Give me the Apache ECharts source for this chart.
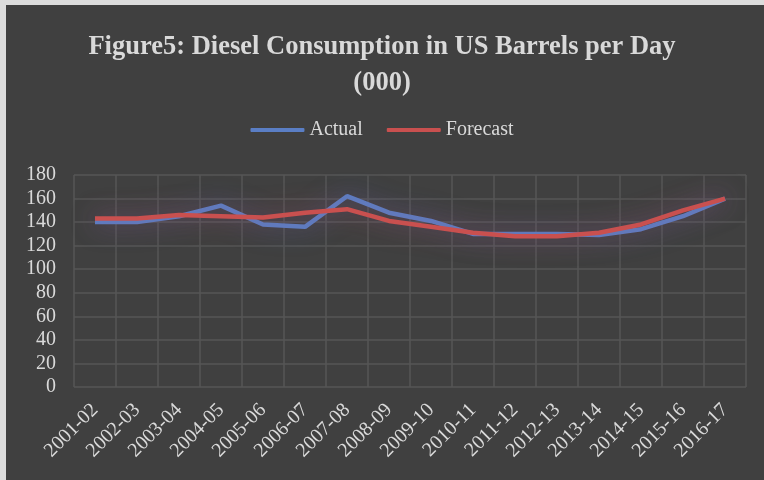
<!DOCTYPE html>
<html>
<head>
<meta charset="utf-8">
<script src="https://cdn.jsdelivr.net/npm/echarts@6/dist/echarts.min.js"></script>
<style>
  html, body { margin: 0; padding: 0; background: #ffffff; }
  #chart { width: 764px; height: 480px; }
</style>
</head>
<body>
<div id="chart"></div>
<script>
// Diesel consumption, US barrels per day (thousands)
const years = ['2001-02','2002-03','2003-04','2004-05','2005-06','2006-07','2007-08','2008-09',
               '2009-10','2010-11','2011-12','2012-13','2013-14','2014-15','2015-16','2016-17'];
const actual   = [140, 140, 145, 154, 138, 136, 162, 148, 141, 130, 130, 130, 129, 134, 145, 160];
const forecast = [143, 143, 146, 145, 144, 148, 151, 141, 136, 131, 128, 128, 131, 138, 150, 160];
const yTicks = { min: 0, max: 180, interval: 20 };

const textColor = '#d9d9d9';
const serif = '"Liberation Serif", "Times New Roman", serif';

const chart = echarts.init(document.getElementById('chart'));
chart.setOption({
  backgroundColor: '#404040',
  animation: false,
  graphic: [
    { type: 'rect', left: 0, top: 0, shape: { width: 6, height: 480 }, style: { fill: '#dcdcdc' } },
    { type: 'rect', left: 0, top: 0, shape: { width: 764, height: 5 }, style: { fill: '#dcdcdc' } }
  ],
  title: {
    text: 'Figure5: Diesel Consumption in US Barrels per Day\n(000)',
    left: 'center',
    top: 24,
    textStyle: { fontFamily: serif, fontWeight: 'bold', fontSize: 26.5, lineHeight: 36, color: textColor }
  },
  legend: {
    top: 115,
    left: 'center',
    icon: 'roundRect',
    itemWidth: 54,
    itemHeight: 4,
    itemGap: 24,
    textStyle: { fontFamily: serif, fontSize: 20, color: textColor, padding: [0, 0, 0, 0] },
    data: ['Actual', 'Forecast']
  },
  grid: { left: 74, right: 18, top: 175, bottom: 93 },
  xAxis: {
    type: 'category',
    data: years,
    boundaryGap: true,
    axisLine: { show: false },
    axisTick: { show: false },
    splitLine: { show: true, lineStyle: { color: '#565656', width: 1.5 } },
    axisLabel: { rotate: 45, fontFamily: serif, fontSize: 20, color: textColor, margin: 20, interval: 0 }
  },
  yAxis: {
    type: 'value',
    min: yTicks.min,
    max: yTicks.max,
    interval: yTicks.interval,
    axisLine: { show: false },
    axisTick: { show: false },
    splitLine: { show: true, lineStyle: { color: '#565656', width: 1.5 } },
    axisLabel: { fontFamily: serif, fontSize: 20, color: textColor, margin: 18 }
  },
  series: [
    {
      name: 'Actual',
      type: 'line',
      data: actual,
      symbol: 'none',
      color: '#5a7ec5',
      lineStyle: { width: 4.5, color: '#5a7ec5', shadowBlur: 24, shadowColor: 'rgba(70,110,200,0.6)' }
    },
    {
      name: 'Forecast',
      type: 'line',
      data: forecast,
      symbol: 'none',
      color: '#c9504f',
      lineStyle: { width: 4.5, color: '#c9504f', shadowBlur: 24, shadowColor: 'rgba(200,70,80,0.55)' }
    }
  ]
});
</script>
</body>
</html>
